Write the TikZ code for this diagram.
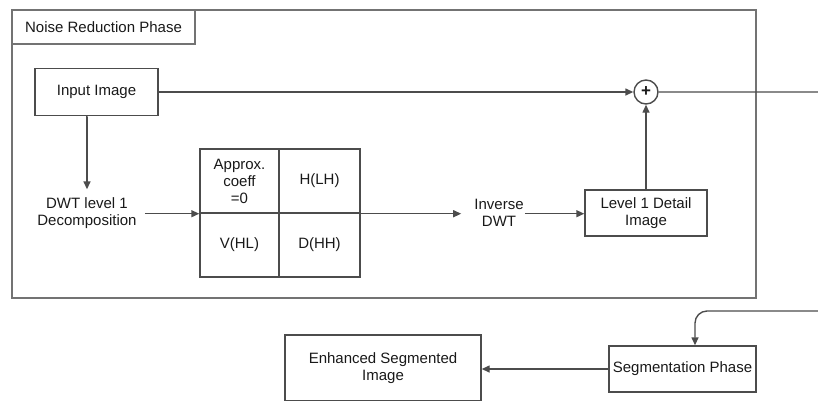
\documentclass[tikz,border=0pt]{standalone}
\usepackage{fontspec}
\setmainfont{Liberation Sans}
\usetikzlibrary{arrows.meta}

\tikzset{
  line/.style = {draw=black!70, line width=1.4pt},
  arr/.style = {line, -{Triangle[length=8pt,width=7pt]}},
  blk/.style = {line, rectangle, inner sep=0pt, align=center, text=black!90,
                font=\fontsize{15}{17}\selectfont},
  lbl/.style = {align=center, text=black!90, font=\fontsize{15}{17}\selectfont}
}

\begin{document}
\begin{tikzpicture}[x=1pt, y=-1pt]
      \useasboundingbox (0, 0) rectangle (818, 400);
      \clip (0, 0) rectangle (818, 400);

      % noise reduction frame
      \draw [line, draw=black!55] (12, 10) rectangle (756, 298);
      \node [blk, draw=black!55, minimum width=183pt, minimum height=34pt] (tab) at (103.5, 27) {Noise Reduction Phase};

      \node [blk, minimum width=123pt, minimum height=47pt] (input) at (96.5, 92) {Input Image};
      \node [lbl, inner sep=8pt] (dwt) at (87, 213) {DWT level 1\\Decomposition};

      % sub-bands
      \node [blk, minimum width=79pt, minimum height=64pt] (ll) at (239.5, 181) {Approx.\\coeff\\=0};
      \node [blk, minimum width=81pt, minimum height=64pt] (lh) at (319.5, 181) {H(LH)};
      \node [blk, minimum width=79pt, minimum height=64pt] (hl) at (239.5, 245) {V(HL)};
      \node [blk, minimum width=81pt, minimum height=64pt] (hh) at (319.5, 245) {D(HH)};

      \node [lbl, inner sep=1pt] (idwt) at (499, 213) {Inverse\\DWT};
      \node [blk, minimum width=122pt, minimum height=46pt] (detail) at (646, 213) {Level 1 Detail\\Image};
      \node [line, circle, minimum size=24pt, inner sep=0pt, text=black!90,
             font=\fontsize{17}{17}\selectfont\bfseries] (sum) at (646, 92) {+};

      % lower part
      \node [blk, minimum width=147pt, minimum height=46pt] (seg) at (682.5, 369) {Segmentation Phase};
      \node [blk, minimum width=196pt, minimum height=66pt] (out) at (383, 368) {Enhanced Segmented\\Image};
      \coordinate (turn1) at (835, 92);
      \coordinate (turn2) at (835, 311);
      \coordinate (turn3) at (695, 311);

      \draw [arr] (input) -- (dwt.north |- input.south) -- (dwt.north);
      \draw [arr] (dwt.east |- ll.south west) -- (ll.south west);
      \draw [arr] (lh.south east) -- ([xshift=-12pt]idwt.west |- lh.south east);
      \draw [arr] (idwt.east |- lh.south east) -- (detail.west |- lh.south east);
      \draw [arr] (detail.north) -- (sum.south);
      \draw [arr] (input.east) -- (sum.west);
      \draw [arr, rounded corners=12pt] (sum.east) -- (turn1) -- (turn2) -- (turn3) -- (turn3 |- seg.north);
      \draw [arr] (seg.west) -- (out.east |- seg.west);
    \end{tikzpicture}
\end{document}
